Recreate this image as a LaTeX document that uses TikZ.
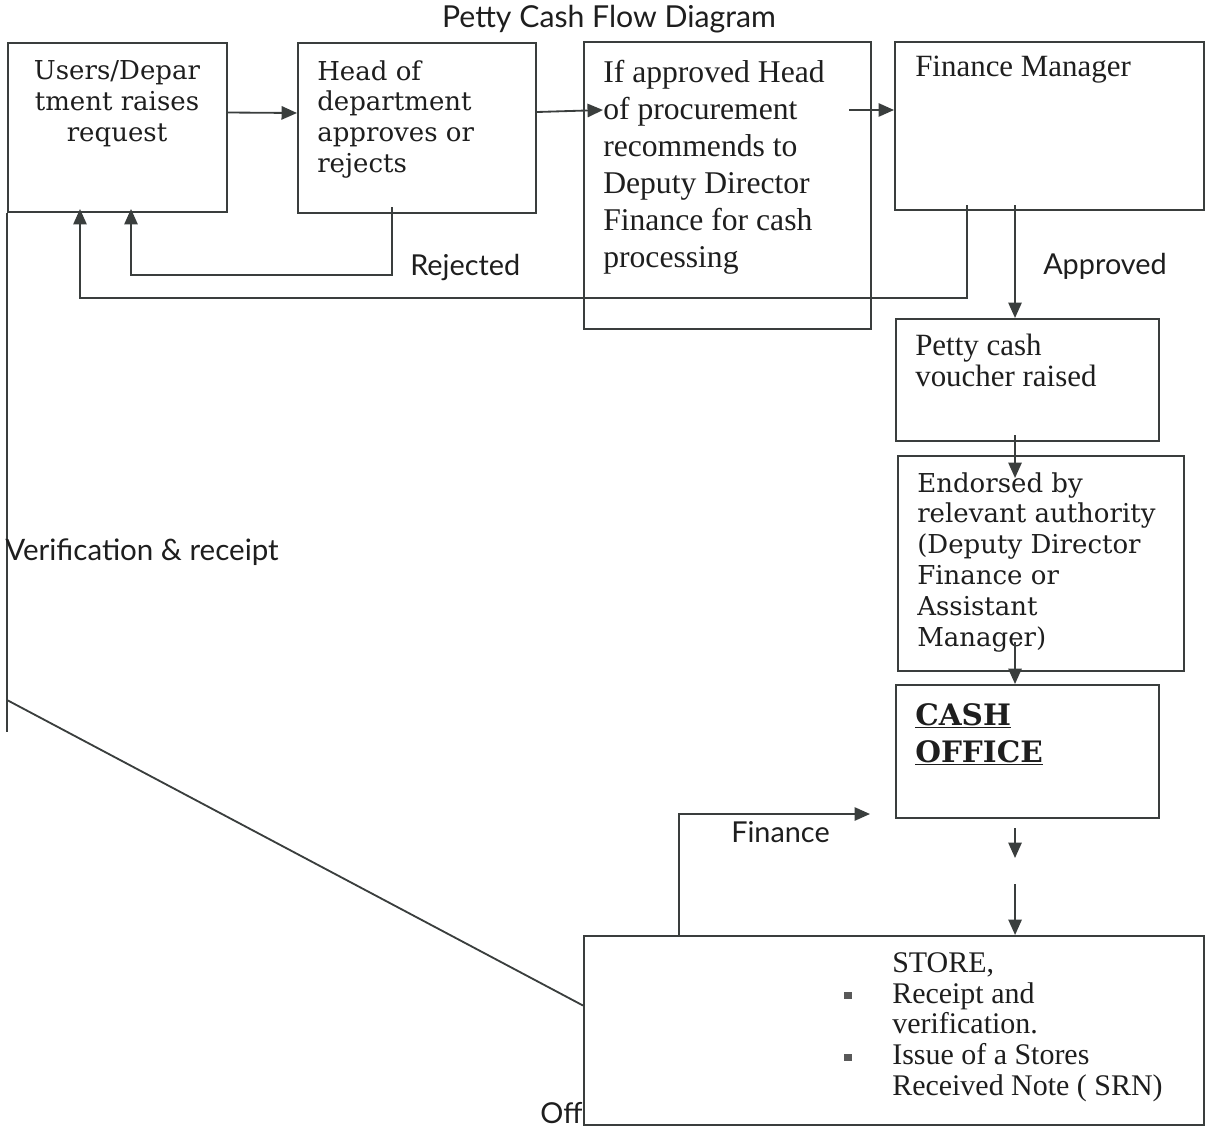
\documentclass[tikz,border=0pt]{standalone}
\usepackage{fontspec}
\setmainfont{Liberation Serif}
\newfontfamily\bookfont{DejaVu Serif}
\newfontfamily\labelfont{Lato}
\usetikzlibrary{arrows.meta,calc}
\definecolor{linegrey}{RGB}{58,62,61}
\definecolor{inkgrey}{RGB}{30,30,30}
\newcommand{\sqbullet}{\llap{\textcolor{black!65}{\rule[3pt]{5pt}{5pt}}\hspace{29pt}}}
\begin{document}
\begin{tikzpicture}[x=0.025cm,y=-0.025cm]

	\tikzstyle{box} = [draw=linegrey, line width=1.4pt, anchor=north west, inner sep=0pt];
	\tikzstyle{txt} = [anchor=north west, inner sep=0pt, align=left, text=inkgrey];
	\tikzstyle{book} = [font=\bookfont\fontsize{18.5}{22}\selectfont];
	\tikzstyle{roman} = [font=\fontsize{22}{22}\selectfont];
	\tikzstyle{lbl} = [anchor=west, inner sep=0pt, text=inkgrey, font=\labelfont\fontsize{20.5}{24}\selectfont];
	\tikzstyle{link} = [draw=linegrey, line width=1.3pt];
	\tikzstyle{arr} = [link, -{Triangle[length=11pt,width=9.5pt]}];

	\useasboundingbox (0,0) rectangle (1205,1129);

	\node[lbl, anchor=center, font=\labelfont\fontsize{21.5}{24}\selectfont] (title) at (609,19) {Petty Cash Flow Diagram};

	% boxes
	\node[box, minimum width=5.475cm, minimum height=4.225cm] (users) at (7,42) {};
	\node[box, minimum width=5.95cm, minimum height=4.25cm] (hod) at (297,42) {};
	\node[box, minimum width=7.175cm, minimum height=7.175cm] (proc) at (583,41) {};
	\node[box, minimum width=7.725cm, minimum height=4.2cm] (fm) at (894,41) {};
	\node[box, minimum width=6.575cm, minimum height=3.05cm] (voucher) at (895,318) {};
	\node[box, minimum width=7.15cm, minimum height=5.375cm] (endorse) at (897,455) {};
	\node[box, minimum width=6.575cm, minimum height=3.325cm] (cash) at (895,684) {};

	\node[lbl] (off) at (540,1113) {Off};
	\node[box, fill=white, minimum width=15.5cm, minimum height=4.725cm] (store) at (583,935) {};

	% box texts
	\node[txt, book, anchor=north, align=center] (users-t) at (117,60) {Users/Depar\\tment raises\\request};
	\node[txt, book] (hod-t) at (317,60) {Head of\\department\\approves or\\rejects};
	\node[txt, font=\fontsize{22.5}{26.3}\selectfont] (proc-t) at (603,60) {If approved Head\\of procurement\\recommends to\\Deputy Director\\Finance for cash\\processing};
	\node[txt, roman] (fm-t) at (915,56) {Finance Manager};
	\node[txt, roman] (voucher-t) at (915,334) {Petty cash\\voucher raised};
	\node[txt, book] (endorse-t) at (917,472) {Endorsed by\\relevant authority\\(Deputy Director\\Finance or\\Assistant\\Manager)};
	\node[txt, font=\bookfont\bfseries\fontsize{21}{26.3}\selectfont] (cash-t) at (915,703) {\underline{CASH}\\\underline{OFFICE}};
	\node[txt, font=\fontsize{21.3}{22}\selectfont] (store-t) at (892,952) {STORE,\\\sqbullet Receipt and\\verification.\\\sqbullet Issue of a Stores\\Received Note ( SRN)};

	% connectors
	\draw[arr] ($(users.east)+(0,-15)$) -- ($(hod.west)+(0,-15)$);
	\draw[arr] ($(hod.east)+(0,-16)$) -- ($(proc.north west)+(20,69)$);
	\draw[arr] ($(proc.north east)+(-23,69)$) -- ($(fm.north west)+(0,69)$);
	\draw[arr] ($(hod.south)+(-25,-7)$) -- ++(0,68) -| ($(users.south)+(13.5,-4)$);
	\draw[arr] ($(fm.south)+(-82.5,-6)$) -- ++(0,93) -| ($(users.south west)+(73,-4)$);
	\draw[arr] ($(fm.south)+(-34.5,-6)$) -- ($(voucher.north)+(-12.5,0)$);
	\draw[arr] ($(voucher.south)+(-12.5,-7)$) -- ($(endorse.north)+(-26,23)$);
	\draw[arr] ($(endorse.south)+(-26,-30)$) -- ($(cash.north)+(-12.5,0)$);
	\draw[arr] ($(cash.south)+(-12.5,9)$) -- ($(cash.south)+(-12.5,39)$);
	\draw[arr] ($(store.north)+(121,-51)$) -- ($(store.north)+(121,0)$);
	\draw[arr] ($(store.north west)+(96,0)$) |- ($(cash.south west)+(-25,-5)$);
	\draw[link] (users.south west) -- ++(0,519);
	\draw[link] ($(users.south west)+(0,487)$) -- ($(store.west)+(0,-25)$);

	% labels
	\node[lbl] (rejected) at (410,268) {Rejected};
	\node[lbl] (approved) at (1043,266) {Approved};
	\node[lbl] (finance) at (731,832) {Finance};
	\node[lbl, font=\labelfont\fontsize{21}{24}\selectfont] (verify) at (5,552) {Verification \& receipt};

\end{tikzpicture}
\end{document}
